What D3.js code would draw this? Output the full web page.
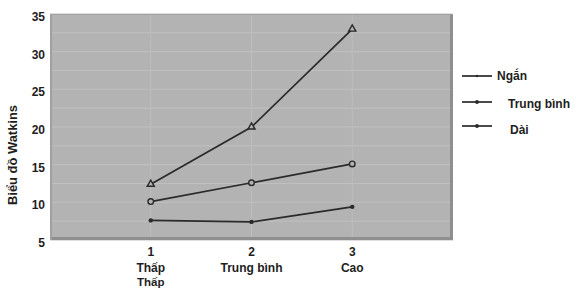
<!DOCTYPE html>
<html><head><meta charset="utf-8">
<script src="https://cdn.jsdelivr.net/npm/d3@7"></script>
<style>body{margin:0;background:#fff}svg{display:block}text{font-family:"Liberation Sans",Arial,sans-serif;font-weight:bold;fill:#1e1e1e}</style>
</head><body><svg id="c" width="576" height="291"></svg>
<script>
const xValues = [1, 2, 3];
const xLabels1 = ["1", "2", "3"];
const xLabels2 = ["Thấp", "Trung bình", "Cao"];
const xLabels3 = ["Thấp", "", ""];
const yTicks = [5, 10, 15, 20, 25, 30, 35];
const seriesNames = ["Ngắn", "Trung bình", "Dài"];
const seriesShort = [12.4, 20.0, 33.0];
const seriesMedium = [10.1, 12.6, 15.1];
const seriesLong = [7.6, 7.4, 9.4];
const yTitle = "Biểu đồ Watkins";

const svg = d3.select("#c");
const L = 50, R = 453, T = 14, B = 240;
const x = d3.scaleLinear().domain([0, 4]).range([L, R]);
const y = d3.scaleLinear().domain([5, 35]).range([B, T]);

svg.append("rect").attr("x", L).attr("y", T).attr("width", R - L).attr("height", B - T).attr("fill", "#b3b3b3");
svg.append("g").selectAll("line").data(d3.range(5, 35.01, 2.5)).join("line")
  .attr("x1", L).attr("x2", R).attr("y1", d => y(d)).attr("y2", d => y(d))
  .attr("stroke", "#c0c0c0").attr("stroke-width", 1);
svg.append("g").selectAll("line").data(xValues).join("line")
  .attr("x1", d => x(d)).attr("x2", d => x(d)).attr("y1", T).attr("y2", B)
  .attr("stroke", "#bdbdbd").attr("stroke-width", 1);
svg.append("rect").attr("x", R - 3).attr("y", T).attr("width", 3).attr("height", B - T).attr("fill", "#8f8f8f");
svg.append("rect").attr("x", L).attr("y", B - 3).attr("width", R - L).attr("height", 3).attr("fill", "#8f8f8f");
svg.append("rect").attr("x", L).attr("y", T).attr("width", 2).attr("height", B - T).attr("fill", "#a0a0a0");
svg.append("rect").attr("x", L).attr("y", T).attr("width", R - L).attr("height", 1).attr("fill", "#a0a0a0");

svg.append("g").selectAll("text").data(yTicks).join("text")
  .attr("x", L - 5).attr("y", d => y(d) + 7).attr("text-anchor", "end")
  .attr("font-size", 12).text(d => d);
svg.append("text").attr("transform", "translate(17,155) rotate(-90)")
  .attr("text-anchor", "middle").attr("font-size", 12).attr("textLength", 100).attr("lengthAdjust", "spacingAndGlyphs").text(yTitle);

const xl = svg.append("g");
xValues.forEach((v, i) => {
  xl.append("text").attr("x", x(v)).attr("y", 256).attr("text-anchor", "middle").attr("font-size", 12).text(xLabels1[i]);
  xl.append("text").attr("x", x(v)).attr("y", 272).attr("text-anchor", "middle").attr("font-size", 12).text(xLabels2[i]);
  if (xLabels3[i]) xl.append("text").attr("x", x(v)).attr("y", 286).attr("text-anchor", "middle").attr("font-size", 11.5).text(xLabels3[i]);
});

const line = d3.line().x((d, i) => x(xValues[i])).y(d => y(d));
const series = [seriesShort, seriesMedium, seriesLong];
const markers = ["triangle", "circle", "dot"];
series.forEach((s, k) => {
  svg.append("path").attr("d", line(s)).attr("fill", "none").attr("stroke", "#2a2a2a").attr("stroke-width", 1.7);
  const g = svg.append("g");
  s.forEach((v, i) => {
    const cx = x(xValues[i]), cy = y(v);
    if (markers[k] === "triangle") {
      g.append("path").attr("d", d3.symbol(d3.symbolTriangle, 22)()).attr("transform", `translate(${cx},${cy})`)
        .attr("fill", "#b3b3b3").attr("stroke", "#2a2a2a").attr("stroke-width", 1.4);
    } else if (markers[k] === "circle") {
      g.append("circle").attr("cx", cx).attr("cy", cy).attr("r", 2.8).attr("fill", "#b3b3b3").attr("stroke", "#2a2a2a").attr("stroke-width", 1.4);
    } else {
      g.append("circle").attr("cx", cx).attr("cy", cy).attr("r", 2.2).attr("fill", "#2a2a2a");
    }
  });
});

const legY = [76, 102, 126];
const legTX = [497, 508, 510];
const legTY = [80, 108, 134];
seriesNames.forEach((n, i) => {
  svg.append("line").attr("x1", 462).attr("x2", 492).attr("y1", legY[i]).attr("y2", legY[i]).attr("stroke", "#2a2a2a").attr("stroke-width", 1.7);
  svg.append("circle").attr("cx", 477).attr("cy", legY[i]).attr("r", i === 0 ? 1.2 : 1.9).attr("fill", "#2a2a2a");
  svg.append("text").attr("x", legTX[i]).attr("y", legTY[i]).attr("font-size", 12).text(n);
});
</script></body></html>
